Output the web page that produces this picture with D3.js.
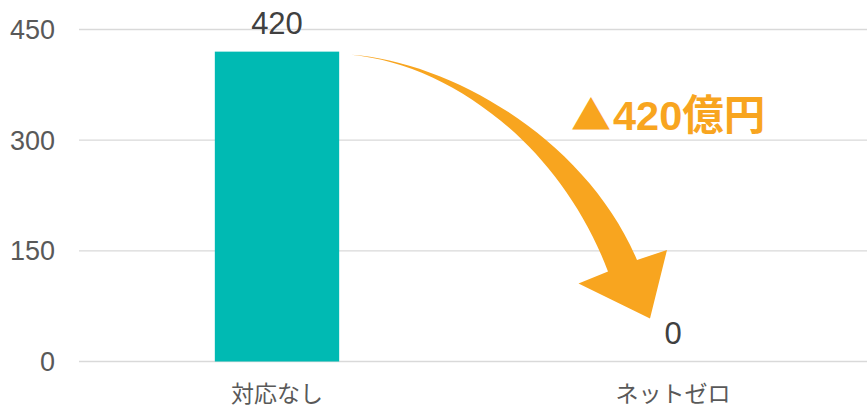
<!DOCTYPE html>
<html><head><meta charset="utf-8">
<script src="https://cdn.jsdelivr.net/npm/d3@7"></script>
<style>html,body{margin:0;padding:0;background:#fff;}</style>
</head><body>
<script>
const categories = ["対応なし", "ネットゼロ"];
const values = [420, 0];
const yTicks = [0, 150, 300, 450];
const annotationMark = "▲";
const annotationText = "420億円";

const W = 867, H = 409;
const font = "'Liberation Sans', Arial, 'Noto Sans CJK JP', sans-serif";
const svg = d3.select("body").append("svg").attr("width", W).attr("height", H)
  .style("font-family", font);

const x = d3.scaleBand().domain(categories).range([79, 871]).paddingInner(0.686).paddingOuter(0.343);
const y = d3.scaleLinear().domain([0, 450]).range([361.5, 29.5]);

// gridlines
svg.append("g").selectAll("line").data(yTicks).join("line")
  .attr("x1", 79).attr("x2", W).attr("y1", d => y(d)).attr("y2", d => y(d))
  .attr("stroke", "#d9d9d9").attr("stroke-width", 1.3);

// y tick labels
svg.append("g").selectAll("text").data(yTicks).join("text")
  .attr("x", 55).attr("y", d => y(d) + 9.5).attr("text-anchor", "end")
  .attr("font-size", 27).attr("fill", "#595959").text(d => d);

// bars
svg.append("g").selectAll("rect").data(values).join("rect")
  .attr("x", (d, i) => x(categories[i])).attr("width", x.bandwidth())
  .attr("y", d => y(d)).attr("height", d => y(0) - y(d))
  .attr("fill", "#00BAB3");

// data labels
svg.append("g").selectAll("text").data(values).join("text")
  .attr("x", (d, i) => x(categories[i]) + x.bandwidth() / 2)
  .attr("y", d => y(d) - 18).attr("text-anchor", "middle")
  .attr("font-size", 31).attr("fill", "#404040").text(d => d);

// category labels
svg.append("g").selectAll("text").data(categories).join("text")
  .attr("x", d => x(d) + x.bandwidth() / 2).attr("y", 402)
  .attr("text-anchor", "middle").attr("font-size", 23).attr("fill", "#595959")
  .text(d => d);

// curved arrow, anchored on the scales
const x0 = x(categories[0]) + x.bandwidth() + 12, y0 = y(values[0]) + 3;
const cx1 = x(categories[1]) + x.bandwidth() / 2;
const tip = [cx1 - 23, y(0) - 43];
const O = [cx1 - 36, y(0) - 101.5];
const I = [cx1 - 65, y(0) - 90];
const L = [cx1 - 94.5, y(0) - 78];
const R = [cx1 - 6, y(0) - 111.5];
const p = d3.path();
p.moveTo(x0, y0);
p.bezierCurveTo(x0 + 100, y0 + 7, x0 + 235, y0 + 85, O[0], O[1]);
p.lineTo(R[0], R[1]);
p.lineTo(tip[0], tip[1]);
p.lineTo(L[0], L[1]);
p.lineTo(I[0], I[1]);
p.bezierCurveTo(x0 + 209, y0 + 90, x0 + 99, y0 + 9.5, x0, y0);
p.closePath();
svg.append("path").attr("d", p.toString()).attr("fill", "#F8A51F");

// annotation
const ann = svg.append("text").attr("x", 571).attr("y", 130)
  .attr("font-size", 40).attr("font-weight", "bold").attr("fill", "#F8A51F");
ann.append("tspan").style("font-family", "'Noto Sans CJK JP', sans-serif").text(annotationMark);
ann.append("tspan").attr("dx", 2).attr("font-size", 41.5).text(annotationText);
</script>
</body></html>
